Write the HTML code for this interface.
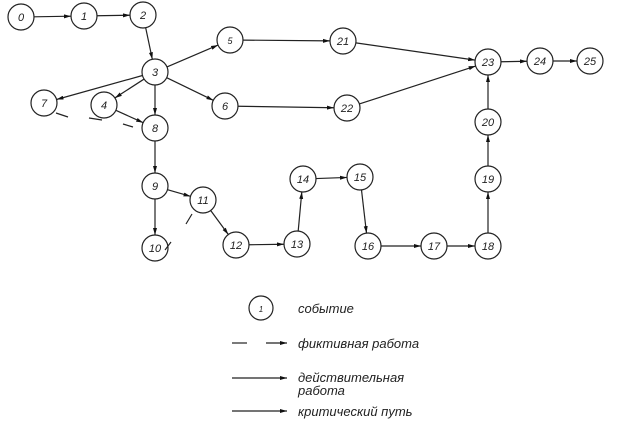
<!DOCTYPE html>
<html><head><meta charset="utf-8"><style>
html,body{margin:0;padding:0;background:#fff}
svg{display:block}
text{font-family:"Liberation Sans",sans-serif;font-style:italic;fill:#222}
</style></head><body>
<svg id="s" width="617" height="437" viewBox="0 0 617 437" xmlns="http://www.w3.org/2000/svg">
<defs><marker id="a" markerWidth="8" markerHeight="6" refX="7" refY="3" orient="auto" markerUnits="userSpaceOnUse"><path d="M0,1 L7,3 L0,5 z" fill="#111"/></marker></defs>
<g id="lines" stroke="#222" stroke-width="1.2" fill="none"></g>
<g stroke="#222" stroke-width="1.2" fill="#fff">
<circle cx="21" cy="17" r="13"/><circle cx="84" cy="16" r="13"/><circle cx="143" cy="15" r="13"/>
<circle cx="155" cy="72" r="13"/><circle cx="230" cy="40" r="13"/><circle cx="44" cy="103" r="13"/>
<circle cx="104" cy="105" r="13"/><circle cx="155" cy="128" r="13"/><circle cx="225" cy="106" r="13"/>
<circle cx="155" cy="186" r="13"/><circle cx="203" cy="200" r="13"/><circle cx="155" cy="248" r="13"/>
<circle cx="236" cy="245" r="13"/><circle cx="297" cy="244" r="13"/><circle cx="303" cy="179" r="13"/>
<circle cx="360" cy="177" r="13"/><circle cx="368" cy="246" r="13"/><circle cx="434" cy="246" r="13"/>
<circle cx="488" cy="246" r="13"/><circle cx="488" cy="179" r="13"/><circle cx="488" cy="122" r="13"/>
<circle cx="343" cy="41" r="13"/><circle cx="347" cy="108" r="13"/><circle cx="488" cy="62" r="13"/>
<circle cx="540" cy="61" r="13"/><circle cx="590" cy="61" r="13"/>
<circle cx="261" cy="308" r="12"/>
</g>
<g font-size="11" text-anchor="middle">
<text x="21" y="21">0</text><text x="84" y="20">1</text><text x="143" y="19">2</text>
<text x="155" y="76">3</text><text x="230" y="44" font-size="9">5</text><text x="44" y="107">7</text>
<text x="104" y="109">4</text><text x="155" y="132">8</text><text x="225" y="110">6</text>
<text x="155" y="190">9</text><text x="203" y="204">11</text><text x="155" y="252">10</text>
<text x="236" y="249">12</text><text x="297" y="248">13</text><text x="303" y="183">14</text>
<text x="360" y="181">15</text><text x="368" y="250">16</text><text x="434" y="250">17</text>
<text x="488" y="250">18</text><text x="488" y="183">19</text><text x="488" y="126">20</text>
<text x="343" y="45">21</text><text x="347" y="112">22</text><text x="488" y="66">23</text>
<text x="540" y="65">24</text><text x="590" y="65">25</text>
<text x="261" y="312" font-size="8">1</text>
</g>
<g stroke="#222" stroke-width="1.2">
<line x1="56" y1="113" x2="68" y2="117"/><line x1="89" y1="118" x2="102" y2="120"/>
<line x1="123" y1="124" x2="133" y2="127"/><line x1="165" y1="250" x2="171" y2="242"/>
<line x1="186" y1="224" x2="192" y2="214"/>
<line x1="232" y1="343" x2="247" y2="343"/><line x1="266" y1="343" x2="287" y2="343" marker-end="url(#a)"/>
<line x1="232" y1="378" x2="287" y2="378" marker-end="url(#a)"/>
<line x1="232" y1="411" x2="287" y2="411" marker-end="url(#a)"/>
</g>
<g font-size="13">
<text x="298" y="313">событие</text>
<text x="298" y="348">фиктивная работа</text>
<text x="298" y="382">действительная</text>
<text x="298" y="395">работа</text>
<text x="298" y="416">критический путь</text>
</g>
</svg>
<script>
var N={0:[21,17],1:[84,16],2:[143,15],3:[155,72],5:[230,40],7:[44,103],4:[104,105],8:[155,128],6:[225,106],9:[155,186],11:[203,200],10:[155,248],12:[236,245],13:[297,244],14:[303,179],15:[360,177],16:[368,246],17:[434,246],18:[488,246],19:[488,179],20:[488,122],21:[343,41],22:[347,108],23:[488,62],24:[540,61],25:[590,61]};
var E=[[0,1],[1,2],[2,3],[3,5],[3,7],[3,4],[3,8],[3,6],[4,8],[8,9],[9,11],[9,10],[11,12],[12,13],[13,14],[14,15],[15,16],[16,17],[17,18],[18,19],[19,20],[20,23],[5,21],[6,22],[21,23],[22,23],[23,24],[24,25]];
var g=document.getElementById('lines'),r=13;
E.forEach(function(e){var a=N[e[0]],b=N[e[1]],dx=b[0]-a[0],dy=b[1]-a[1],d=Math.hypot(dx,dy),ux=dx/d,uy=dy/d;
var l=document.createElementNS('http://www.w3.org/2000/svg','line');
l.setAttribute('x1',a[0]+ux*r);l.setAttribute('y1',a[1]+uy*r);l.setAttribute('x2',b[0]-ux*r);l.setAttribute('y2',b[1]-uy*r);
l.setAttribute('marker-end','url(#a)');g.appendChild(l);});
</script>
</body></html>
